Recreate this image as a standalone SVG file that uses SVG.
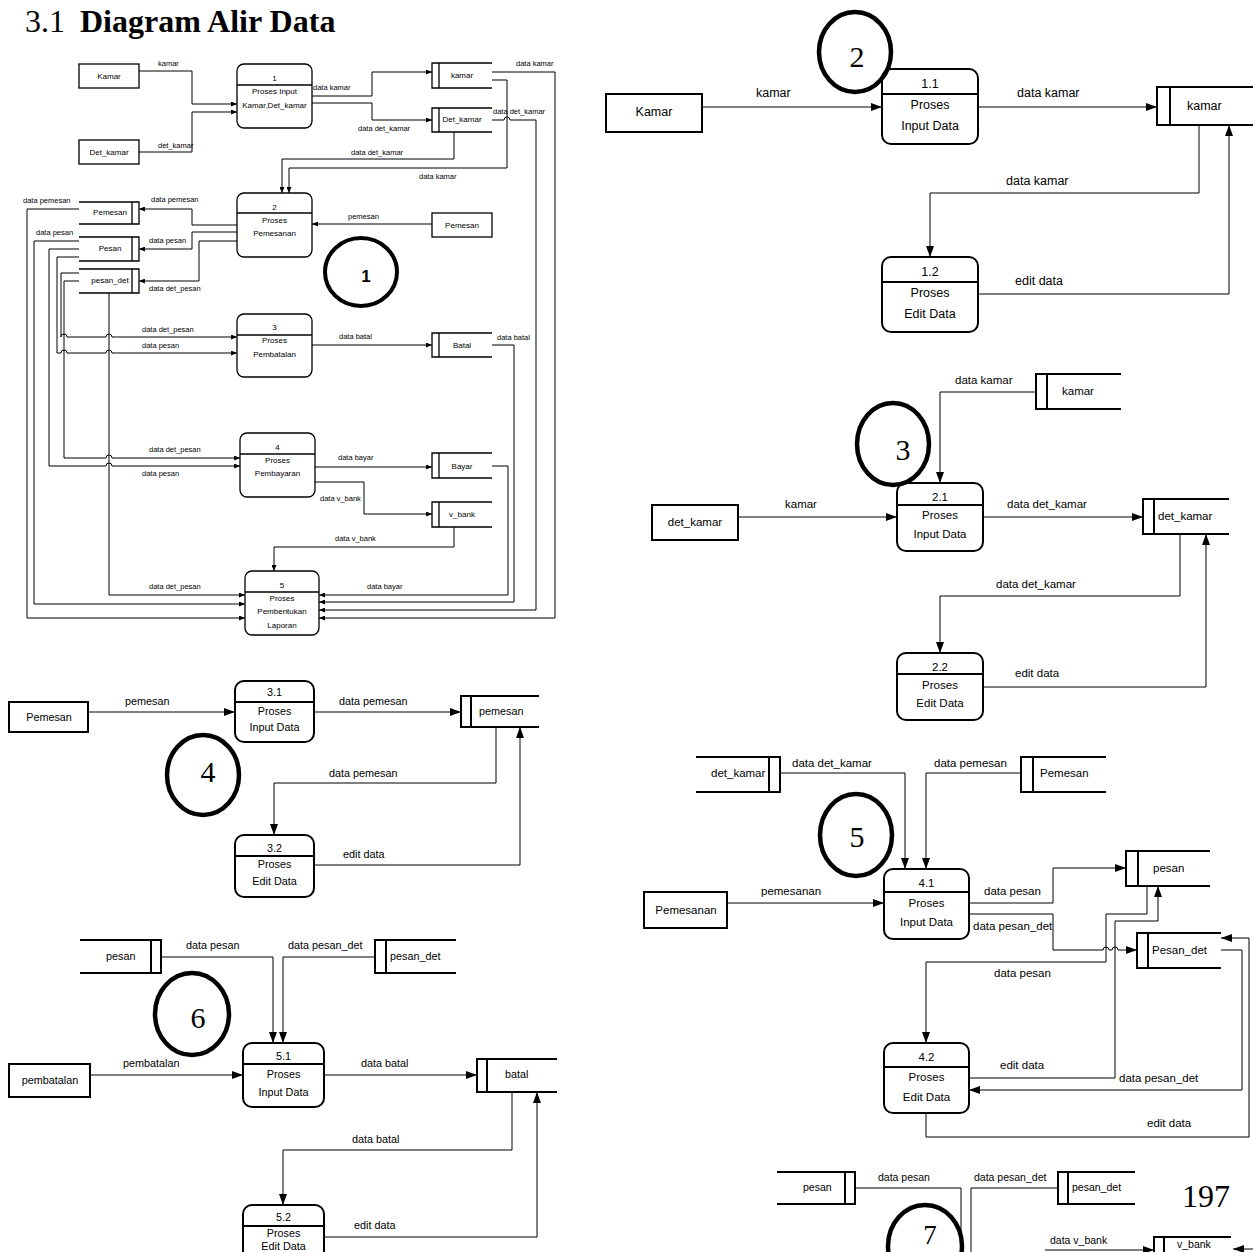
<svg xmlns="http://www.w3.org/2000/svg" width="1253" height="1252" viewBox="0 0 1253 1252">
<style>
.p{fill:#fff;stroke:#000;stroke-width:2}
.p1{fill:#fff;stroke:#000;stroke-width:1.3}
.s{fill:none;stroke:#000;stroke-width:2}
.s1{fill:none;stroke:#000;stroke-width:1.3}
.c{fill:none;stroke:#000;stroke-width:1}
.ci{fill:none;stroke:#000;stroke-width:4.5}
text{font-family:"Liberation Sans",Arial,sans-serif;fill:#000}
.m{text-anchor:middle}
.f8{font-size:8px}
.f75{font-size:7.5px}
.f125{font-size:12.5px}
.f115{font-size:11.5px}
.f108{font-size:10.8px}
.f105{font-size:10.5px}
.num{font-family:"Liberation Serif","Times New Roman",serif;font-size:30px;text-anchor:middle}
</style>
<defs>
<marker id="a" viewBox="0 0 12 10" refX="12" refY="5" markerWidth="6" markerHeight="5" orient="auto" markerUnits="userSpaceOnUse"><path d="M0,0 L12,5 L0,10 z" fill="#000"/></marker>
<marker id="b" viewBox="0 0 11 8" refX="11" refY="4" markerWidth="11" markerHeight="8" orient="auto" markerUnits="userSpaceOnUse"><path d="M0,0 L11,4 L0,8 z" fill="#000"/></marker>
</defs>
<rect width="1253" height="1252" fill="#fff"/>
<g id="title">
<text x="25" y="32" font-size="32" style="font-family:'Liberation Serif',serif">3.1</text>
<text x="80" y="32" font-size="32" font-weight="bold" style="font-family:'Liberation Serif',serif">Diagram Alir Data</text>
</g>

<!-- ================= Diagram 1 ================= -->
<g id="d1-connectors" class="c" marker-end="url(#a)">
<path d="M139,71 H192 V104 H237"/>
<path d="M139,152 H192 V112 H237"/>
<path d="M312,96 H372 V72 H432"/>
<path d="M312,103 H372 V120 H432"/>
<path d="M492,72 H555 V618 H319"/>
<path d="M492,80 H507 V168 H289 V193"/>
<path d="M492,120 H504 a3,3 0 0 1 6,0 H536 V610 H319"/>
<path d="M454,132 V159 H282 V193"/>
<path d="M432,224 H312"/>
<path d="M237,225 H192 V209 H139"/>
<path d="M237,232 H192 V249 H139"/>
<path d="M237,241 H199 V281 H139"/>
<path d="M79,209 H27 V618 H245"/>
<path d="M79,241 H34 V604 H245"/>
<path d="M79,249 H49 V466 H106 a3,3 0 0 1 6,0 H240"/>
<path d="M79,257 H57 V353 H61 a3,3 0 0 1 6,0 H106 a3,3 0 0 1 6,0 H237"/>
<path d="M79,273 H61 V337 a3,3 0 0 1 6,0 H106 a3,3 0 0 1 6,0 H237"/>
<path d="M79,281 H64 V458 H106 a3,3 0 0 1 6,0 H240"/>
<path d="M109,293 V595 H245"/>
<path d="M312,345 H432"/>
<path d="M492,345 H514 V602 H319"/>
<path d="M315,467 H432"/>
<path d="M315,482 H364 V514 H432"/>
<path d="M492,466 H508 V595 H319"/>
<path d="M454,527 V547 H274 V571"/>
</g>
<g id="d1-labels" class="f75">
<text x="158" y="66">kamar</text>
<text x="158" y="148">det_kamar</text>
<text x="313" y="90">data kamar</text>
<text x="358" y="131">data det_kamar</text>
<text x="516" y="66">data kamar</text>
<text x="493" y="114">data det_kamar</text>
<text x="351" y="155">data det_kamar</text>
<text x="419" y="179">data kamar</text>
<text x="348" y="219">pemesan</text>
<text x="151" y="202">data pemesan</text>
<text x="149" y="243">data pesan</text>
<text x="149" y="291">data det_pesan</text>
<text x="23" y="203">data pemesan</text>
<text x="36" y="235">data pesan</text>
<text x="142" y="332">data det_pesan</text>
<text x="142" y="348">data pesan</text>
<text x="339" y="339">data batal</text>
<text x="497" y="340">data batal</text>
<text x="149" y="452">data det_pesan</text>
<text x="142" y="476">data pesan</text>
<text x="338" y="460">data bayar</text>
<text x="320" y="501">data v_bank</text>
<text x="335" y="541">data v_bank</text>
<text x="149" y="589">data det_pesan</text>
<text x="367" y="589">data bayar</text>
</g>
<g id="d1-ext-kamar"><rect class="p1" x="79" y="64" width="60" height="24"/><text class="m f8" x="109" y="79">Kamar</text></g>
<g id="d1-ext-detkamar"><rect class="p1" x="79" y="140" width="60" height="24"/><text class="m f8" x="109" y="155">Det_kamar</text></g>
<g id="d1-ext-pemesan"><rect class="p1" x="432" y="213" width="60" height="24"/><text class="m f8" x="462" y="228">Pemesan</text></g>
<g id="d1-p1"><rect class="p1" x="237" y="64" width="75" height="64" rx="7"/><path class="s1" d="M237,85 H312"/><text class="m f8" x="274.5" y="81">1</text><text class="m f8" x="274.5" y="94">Proses Input</text><text class="m f8" x="274.5" y="108">Kamar,Det_kamar</text></g>
<g id="d1-p2"><rect class="p1" x="237" y="193" width="75" height="64" rx="7"/><path class="s1" d="M237,213 H312"/><text class="m f8" x="274.5" y="210">2</text><text class="m f8" x="274.5" y="223">Proses</text><text class="m f8" x="274.5" y="236">Pemesanan</text></g>
<g id="d1-p3"><rect class="p1" x="237" y="314" width="75" height="63" rx="7"/><path class="s1" d="M237,335 H312"/><text class="m f8" x="274.5" y="330">3</text><text class="m f8" x="274.5" y="343">Proses</text><text class="m f8" x="274.5" y="357">Pembatalan</text></g>
<g id="d1-p4"><rect class="p1" x="240" y="433" width="75" height="64" rx="7"/><path class="s1" d="M240,454 H315"/><text class="m f8" x="277.5" y="450">4</text><text class="m f8" x="277.5" y="463">Proses</text><text class="m f8" x="277.5" y="476">Pembayaran</text></g>
<g id="d1-p5"><rect class="p1" x="245" y="571" width="74" height="64" rx="7"/><path class="s1" d="M245,592 H319"/><text class="m f8" x="282" y="588">5</text><text class="m f8" x="282" y="601">Proses</text><text class="m f8" x="282" y="614">Pembentukan</text><text class="m f8" x="282" y="628">Laporan</text></g>
<g id="d1-st-kamar"><path class="s1" d="M492,63 H432 V88 H492 M439,63 V88"/><text class="m f8" x="462" y="78">kamar</text></g>
<g id="d1-st-detkamar"><path class="s1" d="M492,108 H432 V132 H492 M439,108 V132"/><text class="m f8" x="462" y="122">Det_kamar</text></g>
<g id="d1-st-batal"><path class="s1" d="M492,333 H432 V357 H492 M439,333 V357"/><text class="m f8" x="462" y="348">Batal</text></g>
<g id="d1-st-bayar"><path class="s1" d="M492,453 H432 V478 H492 M439,453 V478"/><text class="m f8" x="462" y="469">Bayar</text></g>
<g id="d1-st-vbank"><path class="s1" d="M492,502 H432 V527 H492 M439,502 V527"/><text class="m f8" x="462" y="517">v_bank</text></g>
<g id="d1-st-pemesan"><path class="s1" d="M79,202 H139 V224 H79 M132,202 V224"/><text class="m f8" x="110" y="215">Pemesan</text></g>
<g id="d1-st-pesan"><path class="s1" d="M79,237 H139 V261 H79 M132,237 V261"/><text class="m f8" x="110" y="251">Pesan</text></g>
<g id="d1-st-pesandet"><path class="s1" d="M79,269 H139 V293 H79 M132,269 V293"/><text class="m f8" x="110" y="283">pesan_det</text></g>
<g id="badge-1"><ellipse class="ci" cx="361" cy="272" rx="36" ry="34" style="stroke-width:4"/><text x="366" y="282" font-size="17" font-weight="bold" text-anchor="middle">1</text></g>

<!-- ================= Diagram 2 ================= -->
<g id="d2-connectors" class="c" marker-end="url(#b)">
<path d="M702,107 H882"/>
<path d="M978,107 H1157"/>
<path d="M1199,125 V193 H930 V257"/>
<path d="M978,294 H1229 V125"/>
</g>
<g id="d2-labels" class="f125">
<text x="756" y="97">kamar</text>
<text x="1017" y="97">data kamar</text>
<text x="1006" y="185">data kamar</text>
<text x="1015" y="285">edit data</text>
</g>
<g id="d2-ext-kamar"><rect class="p" x="606" y="94" width="96" height="38"/><text class="m f125" x="654" y="116">Kamar</text></g>
<g id="d2-p11"><rect class="p" x="882" y="69" width="96" height="75" rx="9"/><path class="s" d="M882,94 H978"/><text class="m f125" x="930" y="88">1.1</text><text class="m f125" x="930" y="109">Proses</text><text class="m f125" x="930" y="130">Input Data</text></g>
<g id="d2-p12"><rect class="p" x="882" y="257" width="96" height="75" rx="9"/><path class="s" d="M882,282 H978"/><text class="m f125" x="930" y="276">1.2</text><text class="m f125" x="930" y="297">Proses</text><text class="m f125" x="930" y="318">Edit Data</text></g>
<g id="d2-st-kamar"><path class="s" d="M1253,87 H1157 V125 H1253 M1170,87 V125"/><text class="f125" x="1187" y="110">kamar</text></g>
<g id="badge-2"><ellipse class="ci" cx="855" cy="52" rx="36" ry="40"/><text class="num" x="857" y="67">2</text></g>

<!-- ================= Diagram 3 ================= -->
<g id="d3-connectors" class="c" marker-end="url(#b)">
<path d="M1036,392 H940 V483"/>
<path d="M738,517 H897"/>
<path d="M983,517 H1143"/>
<path d="M1180,534 V596 H940 V653"/>
<path d="M983,687 H1206 V534"/>
</g>
<g id="d3-labels" class="f115">
<text x="955" y="384">data kamar</text>
<text x="785" y="508">kamar</text>
<text x="1007" y="508">data det_kamar</text>
<text x="996" y="588">data det_kamar</text>
<text x="1015" y="677">edit data</text>
</g>
<g id="d3-st-kamar"><path class="s" d="M1121,374 H1036 V409 H1121 M1047,374 V409"/><text class="f115" x="1062" y="395">kamar</text></g>
<g id="d3-ext-detkamar"><rect class="p" x="652" y="505" width="86" height="35"/><text class="m f115" x="695" y="526">det_kamar</text></g>
<g id="d3-p21"><rect class="p" x="897" y="483" width="86" height="68" rx="9"/><path class="s" d="M897,505 H983"/><text class="m f115" x="940" y="501">2.1</text><text class="m f115" x="940" y="519">Proses</text><text class="m f115" x="940" y="538">Input Data</text></g>
<g id="d3-st-detkamar"><path class="s" d="M1229,499 H1143 V534 H1229 M1154,499 V534"/><text class="f115" x="1158" y="520">det_kamar</text></g>
<g id="d3-p22"><rect class="p" x="897" y="653" width="86" height="67" rx="9"/><path class="s" d="M897,674 H983"/><text class="m f115" x="940" y="671">2.2</text><text class="m f115" x="940" y="689">Proses</text><text class="m f115" x="940" y="707">Edit Data</text></g>
<g id="badge-3"><ellipse class="ci" cx="893" cy="444" rx="36" ry="41"/><text class="num" x="903" y="460">3</text></g>

<!-- ================= Diagram 4 ================= -->
<g id="d4-connectors" class="c" marker-end="url(#b)">
<path d="M88,712 H235"/>
<path d="M314,712 H461"/>
<path d="M496,727 V783 H274 V835"/>
<path d="M314,865 H520 V727"/>
</g>
<g id="d4-labels" class="f108">
<text x="125" y="705">pemesan</text>
<text x="339" y="705">data pemesan</text>
<text x="329" y="777">data pemesan</text>
<text x="343" y="858">edit data</text>
</g>
<g id="d4-ext-pemesan"><rect class="p" x="9" y="702" width="79" height="30"/><text class="m f108" x="49" y="721">Pemesan</text></g>
<g id="d4-p31"><rect class="p" x="235" y="681" width="79" height="61" rx="9"/><path class="s" d="M235,702 H314"/><text class="m f108" x="274.5" y="696">3.1</text><text class="m f108" x="274.5" y="715">Proses</text><text class="m f108" x="274.5" y="731">Input Data</text></g>
<g id="d4-st-pemesan"><path class="s" d="M539,696 H461 V727 H539 M471,696 V727"/><text class="f108" x="479" y="715">pemesan</text></g>
<g id="d4-p32"><rect class="p" x="235" y="835" width="79" height="62" rx="9"/><path class="s" d="M235,856 H314"/><text class="m f108" x="274.5" y="852">3.2</text><text class="m f108" x="274.5" y="868">Proses</text><text class="m f108" x="274.5" y="885">Edit Data</text></g>
<g id="badge-4"><ellipse class="ci" cx="203" cy="775" rx="36" ry="40"/><text class="num" x="208" y="782">4</text></g>

<!-- ================= Diagram 5 ================= -->
<g id="d5-connectors" class="c" marker-end="url(#b)">
<path d="M780,773 H905 V869"/>
<path d="M1021,773 H926 V869"/>
<path d="M727,903 H884"/>
<path d="M969,903 H1053 V868 H1126"/>
<path d="M969,914 H1053 V950 H1103 a3,3 0 0 1 6,0 H1112 a3,3 0 0 1 6,0 H1137"/>
<path d="M1147,886 V914 H1106 V962 H926 V1043"/>
<path d="M969,1078 H1115 V921 H1158 V886"/>
<path d="M1221,950 H1242 V1090 H969"/>
<path d="M926,1113 V1137 H1249 V938 H1221"/>
</g>
<g id="d5-labels" class="f115">
<text x="792" y="767">data det_kamar</text>
<text x="934" y="767">data pemesan</text>
<text x="761" y="895">pemesanan</text>
<text x="984" y="895">data pesan</text>
<text x="973" y="930">data pesan_det</text>
<text x="994" y="977">data pesan</text>
<text x="1000" y="1069">edit data</text>
<text x="1119" y="1082">data pesan_det</text>
<text x="1147" y="1127">edit data</text>
</g>
<g id="d5-st-detkamar"><path class="s" d="M696,757 H780 V792 H696 M769,757 V792"/><text class="f115" x="711" y="777">det_kamar</text></g>
<g id="d5-st-pemesan"><path class="s" d="M1106,757 H1021 V792 H1106 M1033,757 V792"/><text class="f115" x="1040" y="777">Pemesan</text></g>
<g id="d5-ext-pemesanan"><rect class="p" x="644" y="892" width="83" height="36"/><text class="m f115" x="686" y="914">Pemesanan</text></g>
<g id="d5-p41"><rect class="p" x="884" y="869" width="85" height="70" rx="9"/><path class="s" d="M884,892 H969"/><text class="m f115" x="926.5" y="887">4.1</text><text class="m f115" x="926.5" y="907">Proses</text><text class="m f115" x="926.5" y="926">Input Data</text></g>
<g id="d5-st-pesan"><path class="s" d="M1210,851 H1126 V886 H1210 M1138,851 V886"/><text class="f115" x="1153" y="872">pesan</text></g>
<g id="d5-st-pesandet"><path class="s" d="M1221,933 H1137 V968 H1221 M1148,933 V968"/><text class="f115" x="1152" y="954">Pesan_det</text></g>
<g id="d5-p42"><rect class="p" x="884" y="1043" width="85" height="70" rx="9"/><path class="s" d="M884,1067 H969"/><text class="m f115" x="926.5" y="1061">4.2</text><text class="m f115" x="926.5" y="1081">Proses</text><text class="m f115" x="926.5" y="1101">Edit Data</text></g>
<g id="badge-5"><ellipse class="ci" cx="856" cy="835" rx="36" ry="41"/><text class="num" x="857" y="847">5</text></g>

<!-- ================= Diagram 6 ================= -->
<g id="d6-connectors" class="c" marker-end="url(#b)">
<path d="M161,957 H273 V1043"/>
<path d="M375,957 H283 V1043"/>
<path d="M90,1075 H243"/>
<path d="M324,1075 H477"/>
<path d="M512,1092 V1150 H283 V1205"/>
<path d="M324,1237 H537 V1092"/>
</g>
<g id="d6-labels" class="f108">
<text x="186" y="949">data pesan</text>
<text x="288" y="949">data pesan_det</text>
<text x="123" y="1067">pembatalan</text>
<text x="361" y="1067">data batal</text>
<text x="352" y="1143">data batal</text>
<text x="354" y="1229">edit data</text>
</g>
<g id="d6-st-pesan"><path class="s" d="M80,940 H161 V973 H80 M151,940 V973"/><text class="f108" x="106" y="960">pesan</text></g>
<g id="d6-st-pesandet"><path class="s" d="M456,940 H375 V973 H456 M386,940 V973"/><text class="f108" x="390" y="960">pesan_det</text></g>
<g id="d6-ext-pembatalan"><rect class="p" x="9" y="1064" width="81" height="33"/><text class="m f108" x="50" y="1084">pembatalan</text></g>
<g id="d6-p51"><rect class="p" x="243" y="1043" width="81" height="64" rx="9"/><path class="s" d="M243,1064 H324"/><text class="m f108" x="283.5" y="1060">5.1</text><text class="m f108" x="283.5" y="1078">Proses</text><text class="m f108" x="283.5" y="1096">Input Data</text></g>
<g id="d6-st-batal"><path class="s" d="M557,1059 H477 V1092 H557 M487,1059 V1092"/><text class="f108" x="505" y="1078">batal</text></g>
<g id="d6-p52"><rect class="p" x="243" y="1205" width="81" height="70" rx="9"/><path class="s" d="M243,1226 H324"/><text class="m f108" x="283.5" y="1221">5.2</text><text class="m f108" x="283.5" y="1237">Proses</text><text class="m f108" x="283.5" y="1250">Edit Data</text></g>
<g id="badge-6"><ellipse class="ci" cx="192" cy="1014" rx="37" ry="41"/><text class="num" x="198" y="1028">6</text></g>

<!-- ================= Diagram 7 (partial) ================= -->
<g id="d7-connectors" class="c">
<path d="M855,1188 H961 V1252"/>
<path d="M1058,1188 H971 V1252"/>
<path d="M1045,1250 H1154" marker-end="url(#b)"/>
<path d="M1253,1249 H1233" marker-end="url(#b)"/>
</g>
<g id="d7-labels" class="f105">
<text x="878" y="1181">data pesan</text>
<text x="974" y="1181">data pesan_det</text>
<text x="1050" y="1244">data v_bank</text>
</g>
<g id="d7-st-pesan"><path class="s" d="M777,1172 H855 V1204 H777 M845,1172 V1204"/><text class="f105" x="803" y="1191">pesan</text></g>
<g id="d7-st-pesandet"><path class="s" d="M1135,1172 H1058 V1204 H1135 M1068,1172 V1204"/><text class="f105" x="1072" y="1191">pesan_det</text></g>
<g id="d7-st-vbank"><path class="s" d="M1231,1237 H1154 V1270 M1164,1237 V1270"/><text class="f105" x="1177" y="1248">v_bank</text></g>
<g id="badge-7"><ellipse class="ci" cx="925" cy="1246" rx="37" ry="41"/><text class="num" x="930" y="1244" style="font-size:27px">7</text></g>
<g id="page-number"><text x="1182" y="1207" font-size="32" style="font-family:'Liberation Serif',serif">197</text></g>
</svg>
